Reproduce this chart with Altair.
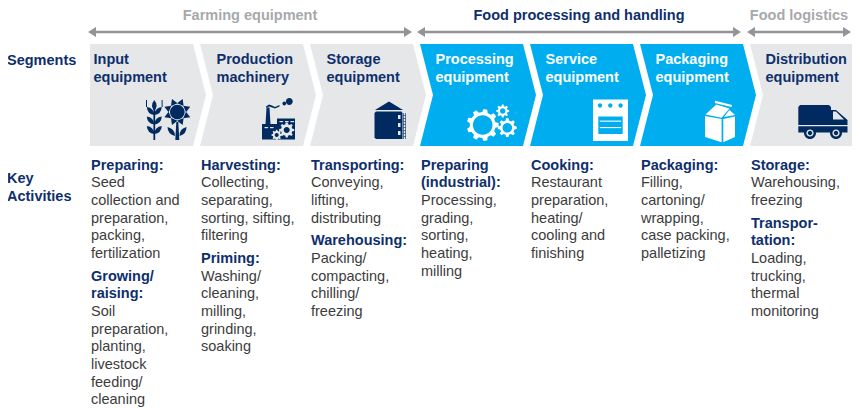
import math
import altair as alt
import pandas as pd

# ---------- content ----------
SEGMENTS = [
    ["Input", "equipment"], ["Production", "machinery"], ["Storage", "equipment"],
    ["Processing", "equipment"], ["Service", "equipment"], ["Packaging", "equipment"],
    ["Distribution", "equipment"],
]
SEGMENT_HIGHLIGHT = [False, False, False, True, True, True, False]
GROUPS = ["Farming equipment", "Food processing and handling", "Food logistics"]
GROUP_SPANS = [(88, 412), (417, 741), (747, 851)]
GROUP_HIGHLIGHT = [False, True, False]

# each activity block: (heading lines, body lines)
ACTIVITIES = [
    [(["Preparing:"], ["Seed", "collection and", "preparation,", "packing,", "fertilization"]),
     (["Growing/", "raising:"], ["Soil", "preparation,", "planting,", "livestock", "feeding/", "cleaning"])],
    [(["Harvesting:"], ["Collecting,", "separating,", "sorting, sifting,", "filtering"]),
     (["Priming:"], ["Washing/", "cleaning,", "milling,", "grinding,", "soaking"])],
    [(["Transporting:"], ["Conveying,", "lifting,", "distributing"]),
     (["Warehousing:"], ["Packing/", "compacting,", "chilling/", "freezing"])],
    [(["Preparing", "(industrial):"], ["Processing,", "grading,", "sorting,", "heating,", "milling"])],
    [(["Cooking:"], ["Restaurant", "preparation,", "heating/", "cooling and", "finishing"])],
    [(["Packaging:"], ["Filling,", "cartoning/", "wrapping,", "case packing,", "palletizing"])],
    [(["Storage:"], ["Warehousing,", "freezing"]),
     (["Transpor-", "tation:"], ["Loading,", "trucking,", "thermal", "monitoring"])],
]

# ---------- styling ----------
NAVY, ICON, BLUE, GREY, ARROW, MUTED, BODY, WHITE = (
    "#0E2F6C", "#002A60", "#00AEEF", "#E6E7E8", "#929497", "#A7A9AC", "#3C3C3C", "#FFFFFF")
FONT = "Liberation Sans"
PITCH, LEFT, CHEV_W, NOTCH, TOP, BOTTOM = 110, 90, 116, 13, 44, 146
TITLE_X = [93.5, 216.5, 326.5, 435.5, 545.5, 655.5, 765.5]
LINE, PARA, FIRST = 17.65, 5.0, 165.7
FS = 14.5


def poly(pts, ox=0, oy=0):
    return "M" + " L".join(f"{x - ox:.2f} {y - oy:.2f}" for x, y in pts) + " Z"


# ---------- chevrons ----------
chev = []
MID = (TOP + BOTTOM) / 2
for i, hi in enumerate(SEGMENT_HIGHLIGHT):
    w = CHEV_W - NOTCH
    pts = [(0, TOP - MID), (w, TOP - MID), (w + NOTCH, 0), (w, BOTTOM - MID), (0, BOTTOM - MID)]
    if i:
        pts.append((NOTCH, 0))
    chev.append(dict(x=LEFT + PITCH * i, y=MID, path=poly(pts), fill=BLUE if hi else GREY))

# ---------- texts ----------
bold, reg = [], []
for i, (a, b) in enumerate(SEGMENTS):
    col = WHITE if SEGMENT_HIGHLIGHT[i] else NAVY
    bold.append(dict(x=TITLE_X[i], y=59.8, t=a, c=col))
    bold.append(dict(x=TITLE_X[i], y=77.8, t=b, c=col))
bold.append(dict(x=7, y=60.7, t="Segments", c=NAVY))
bold.append(dict(x=7, y=178.7, t="Key", c=NAVY))
bold.append(dict(x=7, y=196.7, t="Activities", c=NAVY))

for i, blocks in enumerate(ACTIVITIES):
    x = 91 + PITCH * i
    n = 0
    for p, (heads_, lines) in enumerate(blocks):
        for t in heads_:
            bold.append(dict(x=x, y=FIRST + LINE * n + PARA * p, t=t, c=NAVY))
            n += 1
        for t in lines:
            reg.append(dict(x=x, y=FIRST + LINE * n + PARA * p, t=t, c=BODY))
            n += 1

group_titles = []
arrows, heads = [], []
ARROW_Y = 32
for g, (xa, xb) in enumerate(GROUP_SPANS):
    arrows.append(dict(x=xa + 3, x2=xb - 3, y=ARROW_Y))
    heads.append(dict(x=xa, y=ARROW_Y, path=poly([(0, 0), (8, -5), (8, 5)])))
    heads.append(dict(x=xb, y=ARROW_Y, path=poly([(0, 0), (-8, -5), (-8, 5)])))
    group_titles.append(dict(x=(xa + xb) / 2, y=16.2, t=GROUPS[g], c=NAVY if GROUP_HIGHLIGHT[g] else MUTED))


# ---------- pictogram path helpers (offsets in pixels from each anchor) ----------
def rect(x0, y0, x1, y1, ox, oy):
    return poly([(x0, y0), (x1, y0), (x1, y1), (x0, y1)], ox, oy)


def circle(cx, cy, r, ox, oy):
    cx -= ox
    cy -= oy
    return f"M{cx - r:.2f} {cy:.2f} A{r} {r} 0 1 1 {cx + r:.2f} {cy:.2f} A{r} {r} 0 1 1 {cx - r:.2f} {cy:.2f} Z"


def lens(x0, y0, x1, y1, w, ox, oy):
    mx, my = (x0 + x1) / 2, (y0 + y1) / 2
    dx, dy = x1 - x0, y1 - y0
    L = math.hypot(dx, dy)
    nx, ny = -dy / L * w, dx / L * w
    return (f"M{x0 - ox:.2f} {y0 - oy:.2f} Q{mx + nx - ox:.2f} {my + ny - oy:.2f} {x1 - ox:.2f} {y1 - oy:.2f} "
            f"Q{mx - nx - ox:.2f} {my - ny - oy:.2f} {x0 - ox:.2f} {y0 - oy:.2f} Z")


def gear(cx, cy, ro, rr, n, ox, oy):
    pts = []
    for k in range(n):
        c = 2 * math.pi * k / n
        step = 2 * math.pi / n
        for fr, rad in [(-0.30, rr), (-0.17, ro), (0.17, ro), (0.30, rr)]:
            pts.append((cx + rad * math.cos(c + fr * step), cy + rad * math.sin(c + fr * step)))
    return poly(pts, ox, oy)


icon = []


def add(i, path, fill):
    icon.append(dict(x=LEFT + PITCH * i, y=120, path=path, fill=fill))


# 0: wheat + sunflower
o = (LEFT, 120)
s = 154.3
add(0, rect(s - .9, 108, s + .9, 140, *o), ICON)
add(0, lens(s, 111, s, 100, 4.5, *o), ICON)
for by in (115, 124.5, 134):
    add(0, lens(s, by, s - 7.5, by - 8, 4.5, *o), ICON)
    add(0, lens(s, by, s + 7.5, by - 8, 4.5, *o), ICON)
add(0, rect(146, 100, 147, 107, *o), ICON)
add(0, rect(161.6, 100, 162.6, 107, *o), ICON)
fx, fy = 177.3, 112
add(0, circle(fx, fy, 7.3, *o), ICON)
for k in range(8):
    c = math.pi * k / 4 + math.pi / 8
    tri = [(fx + 8.7 * math.cos(c - .42), fy + 8.7 * math.sin(c - .42)),
           (fx + 14 * math.cos(c), fy + 14 * math.sin(c)),
           (fx + 8.7 * math.cos(c + .42), fy + 8.7 * math.sin(c + .42))]
    add(0, poly(tri, *o), ICON)
add(0, poly([(176.3, 122), (178.3, 122), (179.3, 140), (175.3, 140)], *o), ICON)
add(0, lens(175, 136, 167.5, 127, 4.5, *o), ICON)
add(0, lens(179.5, 136, 186.5, 127, 4.5, *o), ICON)

# 1: factory
o = (LEFT + PITCH, 120)
add(1, poly([(262, 124), (277, 124), (277, 118.5), (295, 118.5), (295, 139.5), (262, 139.5)], *o), ICON)
add(1, poly([(265.5, 124), (266.5, 107.5), (269.5, 107.5), (270.5, 124)], *o), ICON)
add(1, poly([(266, 106.5), (269, 104.5), (272, 105.5), (275, 107), (279.5, 105), (279.5, 106.5), (275, 108.6), (271.5, 107.2),
             (269, 106.4), (266.5, 108)], *o), ICON)
add(1, circle(284.3, 103.5, 1.9, *o), ICON)
add(1, circle(289.3, 101.5, 3.4, *o), ICON)
for x in (279.5, 285, 290.5):
    add(1, rect(x, 121, x + 3.6, 122.2, *o), GREY)
for x in (264.5, 270):
    add(1, rect(x, 127, x + 3.6, 128.2, *o), GREY)
add(1, gear(286.7, 130, 7.6, 5.8, 8, *o), GREY)
add(1, circle(286.7, 130, 3, *o), ICON)
add(1, gear(276.7, 135, 5.2, 4, 8, *o), GREY)
add(1, circle(276.7, 135, 2, *o), ICON)

# 2: silo
o = (LEFT + PITCH * 2, 120)
add(2, poly([(389, 101.5), (403, 110), (375, 110)], *o), ICON)
add(2, poly([(376, 111.5), (401.5, 111.5), (402.5, 113), (402.5, 139), (376, 139), (374.5, 137.5), (374.5, 113)], *o), ICON)
for y in (115, 123, 131):
    add(2, rect(398, y, 400.5, y + 4, *o), GREY)
add(2, rect(403.4, 113, 404, 139, *o), ICON)
add(2, rect(405, 113, 405.6, 139, *o), ICON)
for y in (115, 118, 121, 124, 127, 130, 133, 136):
    add(2, rect(403.4, y, 405.6, y + .6, *o), ICON)

# 3: gears
o = (LEFT + PITCH * 3, 120)
for cx, cy, ro, rr, n, h in [(482.7, 125, 16, 13, 9, 9.8), (507.3, 127.7, 9.5, 7.3, 8, 4.8), (502.7, 111, 6.5, 4.9, 8, 2.7)]:
    add(3, gear(cx, cy, ro, rr, n, *o), WHITE)
    add(3, circle(cx, cy, h, *o), BLUE)

# 4: oven
o = (LEFT + PITCH * 4, 120)
add(4, rect(593, 99.5, 628, 141, *o), WHITE)
for x in (600, 610.3, 620.6):
    add(4, circle(x, 105.5, 2.2, *o), BLUE)
add(4, rect(598.3, 116.5, 622.7, 134, *o), BLUE)
add(4, rect(599.8, 120.6, 621.2, 121.7, *o), WHITE)
add(4, rect(599.8, 127, 621.2, 128.1, *o), WHITE)

# 5: carton
o = (LEFT + PITCH * 5, 120)
add(5, poly([(705, 116), (721.6, 119), (721.6, 142.3), (705, 137)], *o), WHITE)
add(5, poly([(723.3, 119), (735, 116.5), (735, 137), (723.3, 142.3)], *o), WHITE)
add(5, poly([(705.5, 114.5), (716.3, 104.6), (729.5, 108.5), (721.6, 117.8)], *o), WHITE)
add(5, poly([(729.5, 110), (735, 115), (724, 117)], *o), WHITE)
add(5, poly([(715.2, 100.8), (732, 105), (731.5, 107), (714.8, 103)], *o), WHITE)

# 6: truck
o = (LEFT + PITCH * 6, 120)
add(6, poly([(800, 105), (829, 105), (831, 107), (831, 110), (836, 110), (847.5, 120), (847.5, 125), (798.3, 125), (798.3, 107)], *o), ICON)
add(6, poly([(833, 111.5), (836, 111.5), (844, 119.5), (833, 119.5)], *o), GREY)
add(6, rect(798.3, 126.2, 847.5, 132.5, *o), ICON)
for x in (810, 836):
    add(6, circle(x, 133, 6, *o), ICON)
    add(6, circle(x, 133, 3.6, *o), GREY)
    add(6, circle(x, 133, 2.2, *o), ICON)

# ---------- chart ----------
W, H = 844, 400
X = alt.X("x:Q", scale=alt.Scale(domain=[8, 8 + W], range=[0, W], nice=False, zero=False), axis=None)
Y = alt.Y("y:Q", scale=alt.Scale(domain=[8, 8 + H], range=[0, H], nice=False, zero=False), axis=None)
FILL = alt.Color("fill:N", scale=None)
SHAPE = alt.Shape("path:N", scale=None)


def text_layer(rows, weight):
    return alt.Chart(pd.DataFrame(rows)).mark_text(
        align="left", baseline="middle", font=FONT, fontSize=FS, fontWeight=weight
    ).encode(X, Y, text="t:N", color=alt.Color("c:N", scale=None))


def shapes(rows, **kw):
    return alt.Chart(pd.DataFrame(rows)).mark_point(filled=True, opacity=1, strokeWidth=0, **kw).encode(
        X, Y, shape=SHAPE, size=alt.value(4))


chevrons = shapes(chev).encode(color=FILL)
rules = alt.Chart(pd.DataFrame(arrows)).mark_rule(color=ARROW, strokeWidth=2.6).encode(X, Y, x2="x2:Q")
tips = shapes(heads, color=ARROW)
icons = shapes(icon).encode(color=FILL)
titles = alt.Chart(pd.DataFrame(group_titles)).mark_text(
    align="center", baseline="middle", font=FONT, fontSize=FS, fontWeight="bold"
).encode(X, Y, text="t:N", color=alt.Color("c:N", scale=None))

chart = alt.layer(
    chevrons, rules, tips, icons, titles, text_layer(bold, "bold"), text_layer(reg, "normal")
).properties(
    width=W, height=H, padding=0, autosize=alt.AutoSizeParams(type="none"), background="#FFFFFF"
).configure_view(stroke=None)

chart.save("out.html", embed_options={"renderer": "svg", "actions": False})
